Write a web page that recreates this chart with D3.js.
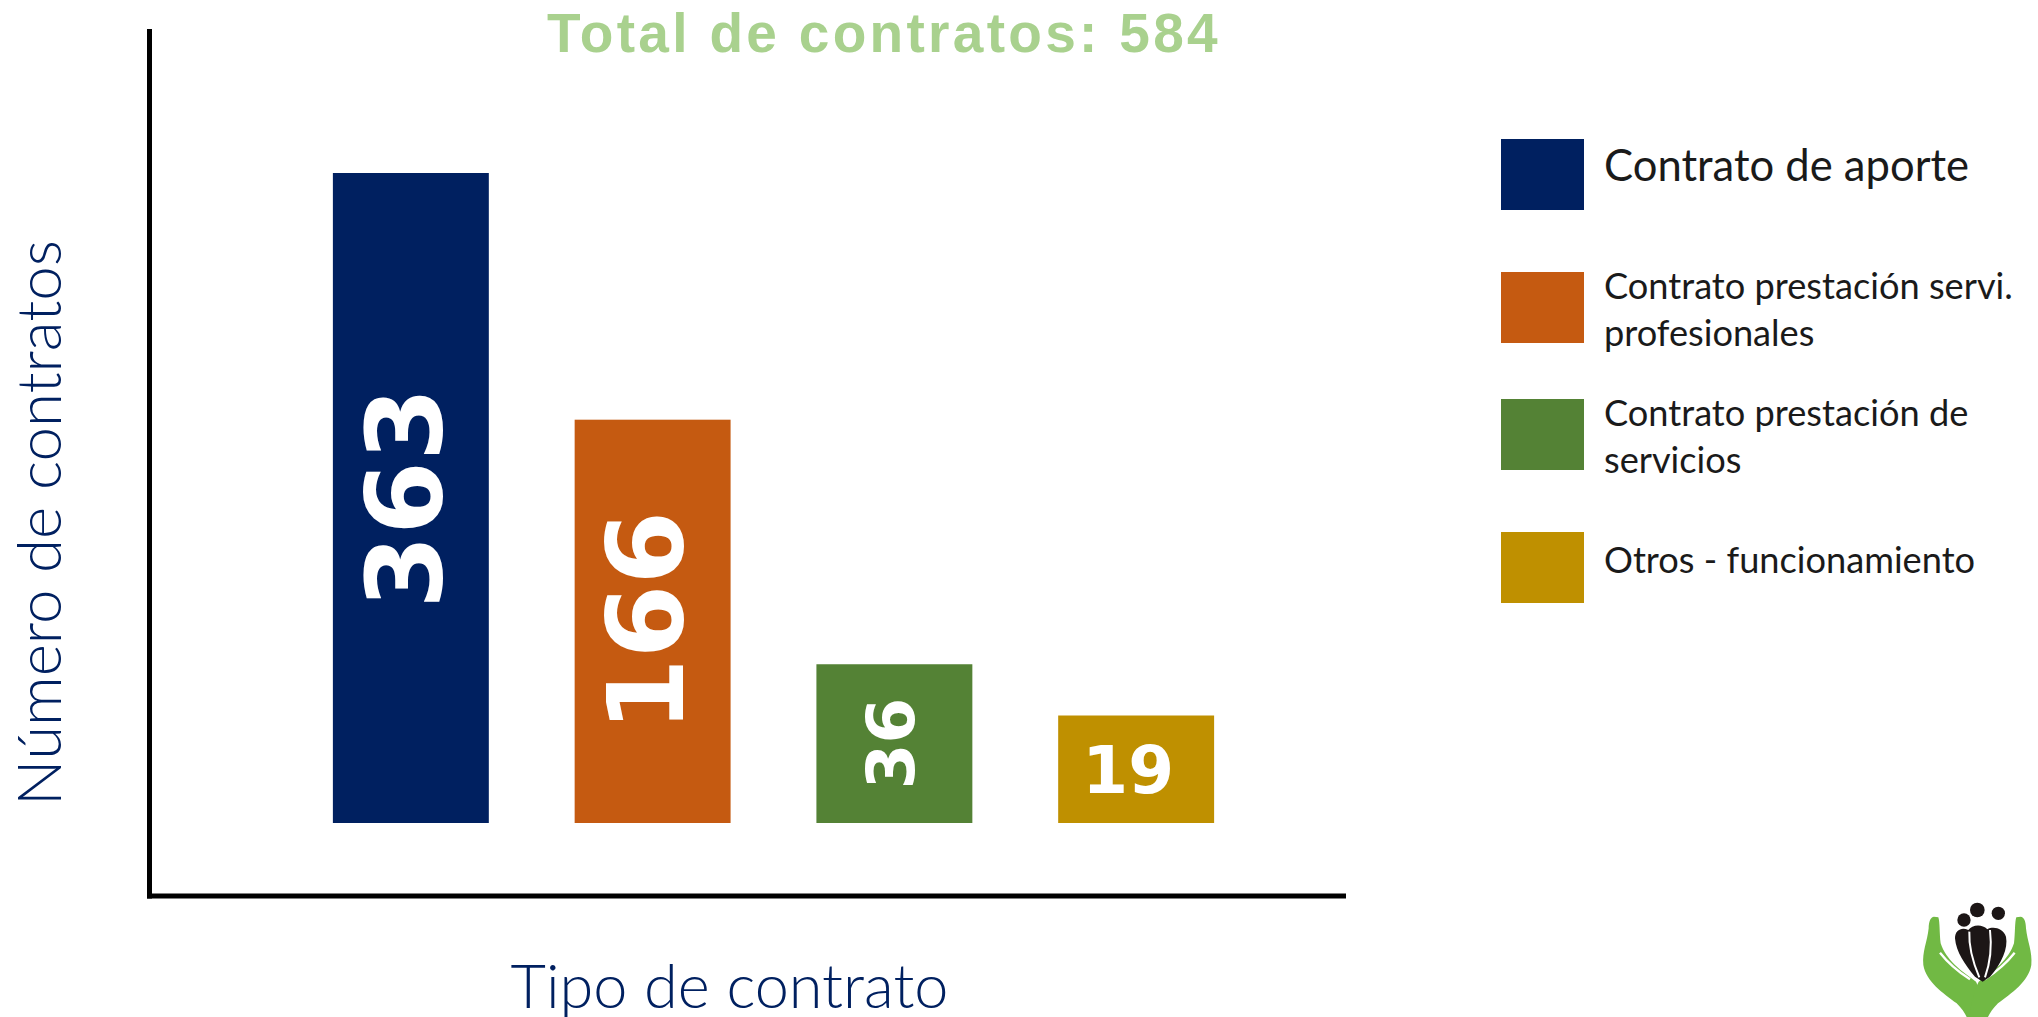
<!DOCTYPE html>
<html>
<head>
<meta charset="utf-8">
<script src="https://cdn.jsdelivr.net/npm/d3@7"></script>
<style>
  body { margin: 0; background: #fff; }
  svg { display: block; }
</style>
</head>
<body>
<div id="chart"></div>
<script>
// data
const categories = ["Contrato de aporte", "Contrato prestación servi. profesionales",
                    "Contrato prestación de servicios", "Otros - funcionamiento"];
const values = [363, 166, 36, 19];
const colors = ["#002060", "#C55A11", "#548235", "#BF9000"];
const legendLines = [["Contrato de aporte"],
                     ["Contrato prestación servi.", "profesionales"],
                     ["Contrato prestación de", "servicios"],
                     ["Otros - funcionamiento"]];

const W = 2038, H = 1017;
const navy = "#002060";
const lightFont = "Lato, 'Open Sans', sans-serif";

let svg = d3.select("#chart").append("svg")
    .attr("width", W)
    .attr("height", H);

// size a text so its length matches the target width
function fitWidth(sel, target) {
    let fs = parseFloat(sel.style("font-size"));
    let len = sel.node().getComputedTextLength();
    sel.style("font-size", (fs * target / len) + "px");
    return fs * target / len;
}

// scales (bars on the slide are not linear in value, a pow scale follows them)
let x = d3.scaleBand()
    .domain(categories)
    .range([212, 1335])
    .paddingInner(0.355)
    .paddingOuter(0.5);

let y = d3.scalePow()
    .exponent(0.61)
    .domain([0, d3.max(values)])
    .range([823, 173]);

let data = categories.map((c, i) => ({cat: c, value: values[i], color: colors[i]}));

// title
svg.append("text")
    .attr("x", 884)
    .attr("y", 52)
    .attr("text-anchor", "middle")
    .style("font-family", "'Liberation Sans', Arial, sans-serif")
    .style("font-weight", "bold")
    .style("font-size", "55px")
    .style("letter-spacing", "3.3px")
    .style("fill", "#A9D18E")
    .text("Total de contratos: " + d3.sum(values));

// bars
svg.selectAll(".bar")
    .data(data)
    .enter()
    .append("rect")
    .attr("class", "bar")
    .attr("x", d => x(d.cat))
    .attr("y", d => y(d.value))
    .attr("width", x.bandwidth())
    .attr("height", d => y(0) - y(d.value))
    .style("fill", d => d.color);

// value labels inside bars, turned when the bar is tall enough
let barH = d => y(0) - y(d.value);
svg.selectAll(".val")
    .data(data)
    .enter()
    .append("text")
    .attr("class", "val")
    .attr("text-anchor", "middle")
    .attr("dy", d => barH(d) > 120 ? "0.29em" : "0.36em")
    .attr("transform", d => {
        let cx = x(d.cat) + x.bandwidth() / 2;
        let cy = (y(d.value) + y(0)) / 2;
        if (barH(d) > 120) return "translate(" + cx + "," + cy + ") rotate(-90)";
        return "translate(" + (cx - 8) + "," + cy + ")";
    })
    .style("font-family", "'DejaVu Sans', sans-serif")
    .style("font-weight", "bold")
    .style("font-size", d => (barH(d) > 300 ? 106 : 66) + "px")
    .style("fill", "#fff")
    .text(d => d.value);

// axes lines (no ticks on the slide)
svg.append("line")
    .attr("x1", 149.5).attr("x2", 149.5)
    .attr("y1", 29).attr("y2", 898.5)
    .style("stroke", "#000").style("stroke-width", 5);
svg.append("line")
    .attr("x1", 147).attr("x2", 1346)
    .attr("y1", 896).attr("y2", 896)
    .style("stroke", "#000").style("stroke-width", 5);

// axis titles
let yt = svg.append("text")
    .attr("transform", "translate(61,523) rotate(-90)")
    .attr("text-anchor", "middle")
    .style("font-family", lightFont)
    .style("font-weight", 300)
    .style("font-size", "60px")
    .style("fill", navy)
    .text("Número de contratos");
fitWidth(yt, 566);

let xt = svg.append("text")
    .attr("x", 729.5)
    .attr("y", 1008)
    .attr("text-anchor", "middle")
    .style("font-family", lightFont)
    .style("font-weight", 300)
    .style("font-size", "60px")
    .style("fill", navy)
    .text("Tipo de contrato");
fitWidth(xt, 438);

// legend
let legend = svg.append("g").attr("transform", "translate(1501,139)");
let probe = legend.append("text")
    .style("font-family", lightFont)
    .style("font-size", "40px")
    .text("Contrato prestación servi.");
let smallFs = fitWidth(probe, 409);
probe.remove();

let items = legend.selectAll(".item")
    .data(data)
    .enter()
    .append("g")
    .attr("class", "item")
    .attr("transform", (d, i) => "translate(0," + (i * 130 + (i == 2 ? 0 : i > 0 ? 3 : 0)) + ")");

items.append("rect")
    .attr("width", 83)
    .attr("height", 71)
    .style("fill", d => d.color);

items.each(function(d, i) {
    let g = d3.select(this);
    let lines = legendLines[i];
    let t = g.append("text")
        .attr("x", 103)
        .style("font-family", lightFont)
        .style("font-size", smallFs + "px")
        .style("fill", "#1a1a1a");
    if (lines.length == 1) {
        t.attr("y", i == 0 ? 42 : 41).text(lines[0]);
        if (i == 0) fitWidth(t, 365);
    } else {
        t.attr("y", 27);
        lines.forEach((l, j) => {
            t.append("tspan").attr("x", 103).attr("dy", j == 0 ? 0 : 47).text(l);
        });
    }
});

// logo in the corner (drawn in 3x units)
let logo = svg.append("g").attr("transform", "translate(1890,880) scale(0.3333)");
let green = "#71B944", ink = "#1c1616";
let hand = "M132,110 C122,110 116,125 116,145 C112,185 96,215 100,255 C108,305 160,340 200,370 C215,385 225,400 230,411 L285,411 C282,370 270,330 258,305 C240,290 215,275 195,255 C175,235 160,215 152,190 C148,160 150,125 145,112 Z";
let thumbCut = "M150,218 C175,250 205,275 240,298";
[0, 1].forEach(side => {
    let g = logo.append("g")
        .attr("transform", side ? "translate(524,0) scale(-1,1)" : null);
    g.append("path").attr("d", hand).style("fill", green);
    g.append("path").attr("d", thumbCut)
        .style("fill", "none").style("stroke", "#fff").style("stroke-width", 7);
});
logo.append("path")
    .attr("d", "M195,175 C195,150 215,140 235,150 C245,135 275,130 292,148 C310,138 340,145 348,170 C355,205 335,250 300,290 L278,305 L255,290 C225,255 198,215 195,175 Z")
    .style("fill", ink);
logo.append("circle").attr("cx", 222).attr("cy", 120).attr("r", 20).style("fill", ink);
logo.append("circle").attr("cx", 262).attr("cy", 90).attr("r", 22).style("fill", ink);
logo.append("circle").attr("cx", 325).attr("cy", 100).attr("r", 20).style("fill", ink);
logo.append("path").attr("d", "M238,155 C236,200 250,250 268,292 M300,150 C306,200 300,250 285,292")
    .style("fill", "none").style("stroke", "#fff").style("stroke-width", 6);
</script>
</body>
</html>
